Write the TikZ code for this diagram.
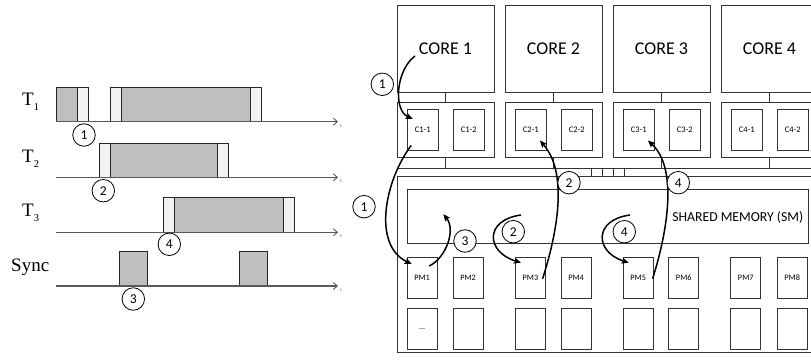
\documentclass[tikz,border=0pt]{standalone}
\usepackage{fontspec}
\setmainfont{Carlito}
\newfontfamily\serifface{Liberation Serif}
\usetikzlibrary{arrows.meta,calc}

\tikzset{
  wire/.style={draw=black!80, line width=0.8pt},
  box/.style={draw=black!80, line width=0.9pt, rectangle, inner sep=0pt, fill=white},
  corebox/.style={box, minimum width=97pt, minimum height=86.6pt, font=\fontsize{18}{20}\selectfont},
  cachebox/.style={box, minimum width=97pt, minimum height=54.6pt},
  cbox/.style={box, minimum width=30.3pt, minimum height=40.7pt, font=\fontsize{8.5}{9}\selectfont},
  pmbox/.style={box, minimum width=30pt, minimum height=41pt, anchor=north west, font=\fontsize{8.3}{9}\selectfont},
  num/.style={circle, draw=black, line width=0.8pt, fill=white, minimum size=22.5pt, inner sep=0pt, font=\fontsize{13.5}{13.5}\selectfont},
  flow/.style={line width=1.5pt, -{Stealth[length=7pt,width=6pt,inset=1.2pt]}},
  darkbar/.style={draw=black!85, line width=0.8pt, fill=black!25},
  lightbar/.style={draw=black!85, line width=0.8pt, fill=black!5},
  axis/.style={draw=black!65, line width=1.1pt, -{Straight Barb[length=4pt,width=7pt,line width=0.9pt]}},
  tlabel/.style={font=\fontsize{4.5}{5}\selectfont, text=black!70, inner sep=0pt},
  rowlabel/.style={font=\serifface\fontsize{19}{20}\selectfont, inner sep=0pt, anchor=base west}
}

\begin{document}
\begin{tikzpicture}[x=1pt,y=-1pt]
\useasboundingbox (0,0) rectangle (811,363);
\clip (0,0) rectangle (811,363);

% ---------- timing chart ----------
\node[rowlabel] (lT1) at (22,106) {T\raisebox{-4.3pt}{\fontsize{10.5}{10.5}\selectfont 1}};
\node[rowlabel] (lT2) at (22,163) {T\raisebox{-4.3pt}{\fontsize{10.5}{10.5}\selectfont 2}};
\node[rowlabel] (lT3) at (22,217) {T\raisebox{-4.3pt}{\fontsize{10.5}{10.5}\selectfont 3}};
\node[rowlabel] (lSync) at (11,271.5) {Sync};

% T1
\draw[darkbar]  (56,87.3) rectangle (77.7,121.7);
\draw[lightbar] (77.7,87.3) rectangle (88.3,121.7);
\draw[lightbar] (110,87.3) rectangle (121,121.7);
\draw[darkbar]  (121,87.3) rectangle (250.7,121.7);
\draw[lightbar] (250.7,87.3) rectangle (261,121.7);
% T2
\draw[lightbar] (99,143.3) rectangle (110,177.3);
\draw[darkbar]  (110,143.3) rectangle (217.7,177.3);
\draw[lightbar] (217.7,143.3) rectangle (228.7,177.3);
% T3
\draw[lightbar] (163.7,197.5) rectangle (174.7,232.3);
\draw[darkbar]  (174.7,197.5) rectangle (283.3,232.3);
\draw[lightbar] (283.3,197.5) rectangle (294,232.3);
% Sync
\draw[darkbar] (119.3,251.7) rectangle (147.7,286);
\draw[darkbar] (239.7,251.7) rectangle (267.7,286);

% time axes
\foreach \y/\n in {121.7/a1,177.3/a2,232.3/a3,286/a4}{
  \coordinate (\n s) at (56,\y);
  \coordinate (\n e) at (338,\y);
  \draw[axis] (\n s) -- (\n e);
  \node[tlabel] (\n t) at (341,\y+4) {t};
}

\node[num] (s1) at (84,135) {1};
\node[num] (s2) at (103.3,190.7) {2};
\node[num] (s4) at (169.3,244.3) {4};
\node[num] (s3) at (133.3,299) {3};

% ---------- architecture ----------
\coordinate (busL) at (397,168.3);
\coordinate (busR) at (830,168.3);
\draw[wire] (busL) -- (busR);

\foreach \i in {1,...,4}{
  \node[corebox] (core\i) at ({445.5+108*(\i-1)},49) {CORE \i};
  \node[cachebox] (cache\i) at ({445.5+108*(\i-1)},130) {};
  \node[cbox] (c\i1) at ({422.8+108*(\i-1)},129.7) {C\i-1};
  \node[cbox] (c\i2) at ({468.8+108*(\i-1)},129.7) {C\i-2};
  \draw[wire] (core\i.south) -- (cache\i.north);
  \draw[wire] (cache\i.south) -- (cache\i.south |- busL);
}

\node[box, minimum width=440pt, minimum height=176.3pt, anchor=north west] (mem) at (396.7,176) {};
\foreach \x in {591.7,602.3,613.3,624.3}
  \draw[wire] (\x,168.3) -- (\x,176);

\node[box, minimum width=401pt, minimum height=54pt, anchor=north west] (sm) at (406.7,189.3) {};
\node[anchor=east, inner sep=0pt, font=\fontsize{13.7}{14}\selectfont] (smlabel) at (803.5,217.5) {SHARED MEMORY (SM)};

\foreach \x [count=\k] in {406.7,452.7,515,560.7,622.7,668.3,730.3,776.7}{
  \node[pmbox] (pm\k) at (\x,256.7) {PM\k};
  \node[pmbox] (pmb\k) at (\x,308.3) {};
}
\node[font=\fontsize{8}{8}\selectfont, inner sep=0pt] (dots) at (pmb1.center) {...};

% data-flow arrows
\coordinate (f1s) at ([shift={(-30.5,7)}]core1.center);
\draw[flow] (f1s) .. controls (396,70) and (393,110) .. ([shift={(5.6,10)}]c11.north west);
\draw[flow] ([shift={(4,-5)}]c11.south west) .. controls (385,180) and (372,245) .. ([shift={(5,7.3)}]pm1.north west);
\draw[flow] ([shift={(-8.4,9.3)}]pm1.north east) .. controls (446,258) and (456,230) .. ([shift={(36.6,-30)}]sm.south west);
\draw[flow] ([shift={(-3.3,1)}]pm3.east) .. controls (555,240) and (570,175) .. ([shift={(24.7,-10)}]c21.south west);
\coordinate (f5s) at (521,215);
\draw[flow] (f5s) .. controls (484,220) and (486,252) .. ([shift={(6,6)}]pm3.north west);
\draw[flow] ([shift={(-1,1)}]pm5.east) .. controls (665,240) and (680,170) .. ([shift={(24.7,-10)}]c31.south west);
\coordinate (f7s) at (630,215);
\draw[flow] (f7s) .. controls (593,220) and (595,252) .. ([shift={(6,6)}]pm5.north west);

\node[num] (r1a) at (382.3,84.3) {1};
\node[num] (r1b) at (364,206.7) {1};
\node[num] (r3)  at (465,241) {3};
\node[num] (r2a) at (569,182.7) {2};
\node[num] (r2b) at (513.3,231.7) {2};
\node[num] (r4a) at (678.3,182.7) {4};
\node[num] (r4b) at (624.3,231.7) {4};
\end{tikzpicture}
\end{document}
